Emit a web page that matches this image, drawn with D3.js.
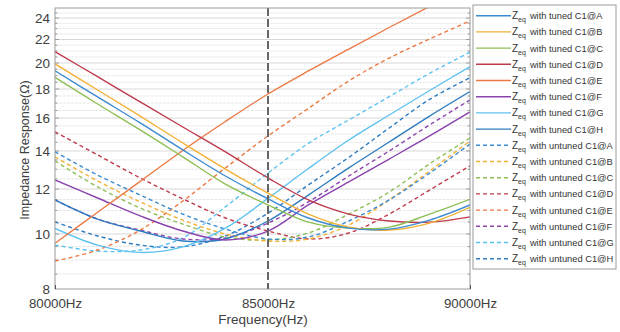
<!DOCTYPE html>
<html>
<head>
<meta charset="utf-8">
<script src="https://cdn.jsdelivr.net/npm/d3@7"></script>
<style>
  body { margin: 0; background: #fff; }
  svg { font-family: "Liberation Sans", Arial, sans-serif; }
</style>
</head>
<body>
<svg id="chart" width="620" height="332"></svg>
<script>
// frequency samples (Hz)
const freqs = [80000, 81000, 82000, 83000, 84000, 85000, 86000, 87000, 88000, 89000, 90000];
const xTicks = [80000, 85000, 90000];
const yTicks = [8, 10, 12, 14, 16, 18, 20, 22, 24];
const markerFreq = 85000;

const labels = ["A", "B", "C", "D", "E", "F", "G", "H"];
const colors = ["#3d8bd0", "#f2b134", "#8dbf55", "#be3a4d", "#ec7a45", "#8b44ae", "#5ec2f0", "#2f7cc1"];

// impedance (ohm) with tuned C1
const tunedA = [19.38, 17.43, 15.69, 14.06, 12.65, 11.53, 10.67, 10.24, 10.20, 10.58, 11.25];
const tunedB = [19.93, 17.93, 16.13, 14.46, 13.01, 11.80, 10.84, 10.28, 10.16, 10.45, 11.14];
const tunedC = [18.87, 16.94, 15.25, 13.67, 12.24, 11.25, 10.49, 10.24, 10.28, 10.84, 11.51];
const tunedD = [20.94, 18.92, 17.08, 15.43, 13.95, 12.55, 11.48, 10.84, 10.54, 10.49, 10.72];
const tunedE = [9.63, 10.92, 12.38, 14.03, 15.78, 17.64, 19.37, 21.17, 23.1, 25.16, 27.33];
const tunedF = [12.45, 11.57, 10.76, 10.12, 9.76, 10.12, 11.25, 12.35, 13.55, 14.88, 16.4];
const tunedG = [10.23, 9.56, 9.28, 9.49, 10.24, 11.55, 13.04, 14.64, 16.2, 17.89, 19.71];
const tunedH = [11.48, 10.62, 10.12, 9.72, 9.80, 10.54, 11.71, 13.07, 14.52, 16.13, 17.82];

// impedance (ohm) with untuned C1
const untunedA = [13.95, 12.70, 11.71, 10.84, 10.20, 9.80, 9.88, 10.54, 11.48, 12.80, 14.40];
const untunedB = [13.67, 12.40, 11.39, 10.58, 10.00, 9.72, 9.80, 10.37, 11.48, 12.91, 14.58];
const untunedC = [13.45, 12.10, 11.11, 10.41, 9.88, 9.76, 10.04, 10.84, 11.85, 13.29, 14.76];
const untunedD = [15.13, 13.78, 12.55, 11.53, 10.67, 10.12, 9.80, 10.04, 10.84, 11.95, 13.18];
const untunedE = [8.96, 9.37, 10.16, 11.43, 13.07, 14.88, 16.64, 18.6, 20.41, 22.05, 23.72];
const untunedF = [11.48, 10.62, 10.16, 9.80, 9.84, 10.45, 11.39, 12.65, 14.0, 15.56, 17.22];
const untunedG = [9.56, 9.33, 9.37, 9.84, 11.16, 12.8, 14.44, 15.88, 17.45, 19.18, 20.9];
const untunedH = [10.50, 9.92, 9.56, 9.49, 9.92, 10.88, 12.2, 13.64, 15.37, 17.26, 18.84];

const tuned = [tunedA, tunedB, tunedC, tunedD, tunedE, tunedF, tunedG, tunedH];
const untuned = [untunedA, untunedB, untunedC, untunedD, untunedE, untunedF, untunedG, untunedH];

const series = [];
tuned.forEach((v, i) => series.push({ name: "tuned", label: labels[i], color: colors[i], dashed: false, values: v }));
untuned.forEach((v, i) => series.push({ name: "untuned", label: labels[i], color: colors[i], dashed: true, values: v }));

const plot = { left: 55, right: 470, top: 8, bottom: 289 };
const svg = d3.select("#chart");

const x = d3.scaleLinear()
  .domain([80000, 85000, 90000])
  .range([plot.left, 268, plot.right]);

const y = d3.scaleLog()
  .domain([8, 25])
  .range([plot.bottom, plot.top]);

svg.append("defs").append("clipPath").attr("id", "clip")
  .append("rect")
  .attr("x", plot.left).attr("y", plot.top)
  .attr("width", plot.right - plot.left).attr("height", plot.bottom - plot.top);

// grid: every 0.5 ohm, stronger on labelled ticks
const gridVals = d3.range(8.5, 25, 0.5);
svg.append("g").selectAll("line")
  .data(gridVals)
  .enter().append("line")
  .attr("x1", plot.left).attr("x2", plot.right)
  .attr("y1", d => y(d)).attr("y2", d => y(d))
  .attr("stroke", d => yTicks.includes(d) ? "#d8d8d8" : "#e6e6e6")
  .attr("stroke-width", 1)
  .attr("stroke-dasharray", d => yTicks.includes(d) ? null : "3,1");

// minor tick marks inside both vertical edges
svg.append("g").selectAll("path")
  .data(gridVals)
  .enter().append("path")
  .attr("d", d => `M${plot.left},${y(d)}h${yTicks.includes(d) ? 4 : 2.5}M${plot.right},${y(d)}h${yTicks.includes(d) ? -4 : -2.5}`)
  .attr("stroke", "#8a8a8a")
  .attr("stroke-width", 0.8);

// curves
const line = d3.line()
  .x((d, i) => x(freqs[i]))
  .y(d => y(d))
  .curve(d3.curveCatmullRom.alpha(0.5));

svg.append("g").attr("clip-path", "url(#clip)")
  .selectAll("path")
  .data(series.slice().reverse())
  .enter().append("path")
  .attr("d", d => line(d.values))
  .attr("fill", "none")
  .attr("stroke", d => d.color)
  .attr("stroke-width", 1.4)
  .attr("stroke-dasharray", d => d.dashed ? "4,3" : null);

// 85 kHz marker
svg.append("line")
  .attr("x1", x(markerFreq)).attr("x2", x(markerFreq))
  .attr("y1", plot.top).attr("y2", plot.bottom)
  .attr("stroke", "#666")
  .attr("stroke-width", 2)
  .attr("stroke-dasharray", "8,3");

// frame
svg.append("rect")
  .attr("x", plot.left).attr("y", plot.top)
  .attr("width", plot.right - plot.left).attr("height", plot.bottom - plot.top)
  .attr("fill", "none")
  .attr("stroke", "#9a9a9a")
  .attr("stroke-width", 1);

// axes
const xAxis = svg.append("g")
  .attr("transform", `translate(0,${plot.bottom})`)
  .call(d3.axisBottom(x).tickValues(xTicks).tickSize(-4).tickPadding(10).tickFormat(d => d + "Hz"));
xAxis.select(".domain").remove();
xAxis.selectAll("line").attr("stroke", "#555");
xAxis.selectAll("text").attr("font-size", 13.3).attr("fill", "#404040")
  .attr("font-family", "Liberation Sans, Arial, sans-serif");

const yAxis = svg.append("g")
  .attr("transform", `translate(${plot.left},0)`)
  .call(d3.axisLeft(y).tickValues(yTicks).tickSize(0).tickPadding(5).tickFormat(d3.format("d")));
yAxis.select(".domain").remove();
yAxis.selectAll("text").attr("font-size", 13.5).attr("fill", "#404040")
  .attr("font-family", "Liberation Sans, Arial, sans-serif");

svg.append("text")
  .attr("x", 263).attr("y", 324)
  .attr("text-anchor", "middle")
  .attr("font-size", 13.5)
  .attr("fill", "#404040")
  .text("Frequency(Hz)");

svg.append("text")
  .attr("transform", "translate(29,150) rotate(-90)")
  .attr("text-anchor", "middle")
  .attr("font-size", 12.5)
  .attr("fill", "#404040")
  .text("Impedance Response(Ω)");

// legend
const legend = svg.append("g");
legend.append("rect")
  .attr("x", 473).attr("y", 5)
  .attr("width", 143).attr("height", 264)
  .attr("fill", "#fff")
  .attr("stroke", "#9a9a9a");

const rows = legend.selectAll("g.row")
  .data(series)
  .enter().append("g")
  .attr("class", "row")
  .attr("transform", (d, i) => `translate(0,${15.7 + i * 16.2})`);

rows.append("line")
  .attr("x1", 476).attr("x2", 511)
  .attr("stroke", d => d.color)
  .attr("stroke-width", 1.4)
  .attr("stroke-dasharray", d => d.dashed ? "4,3" : null);

const txt = rows.append("text")
  .attr("x", 512).attr("y", 3.5)
  .attr("font-size", 9.3)
  .attr("fill", "#333");
txt.append("tspan").attr("font-size", 10).text("Z");
txt.append("tspan").attr("font-size", 7).attr("dy", 3).text("eq");
txt.append("tspan").attr("dy", -3).attr("dx", 4).text(d => `with ${d.name} C1@${d.label}`);
</script>
</body>
</html>
